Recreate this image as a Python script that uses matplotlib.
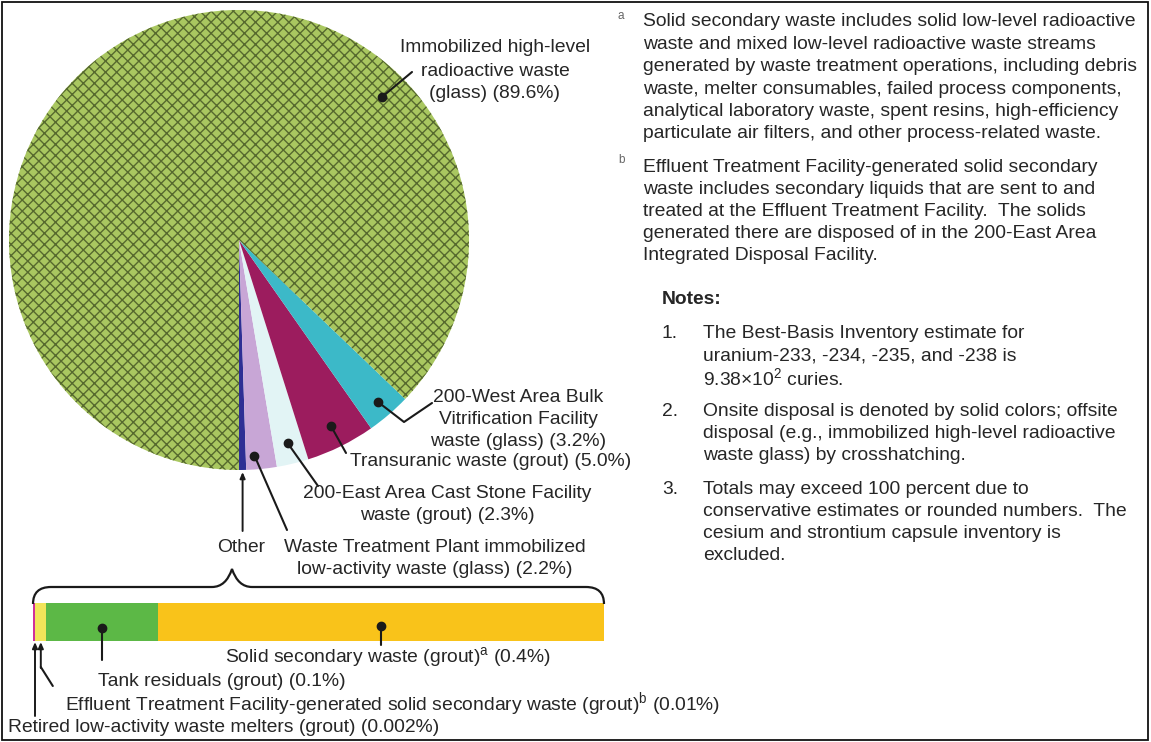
import numpy as np
import matplotlib
matplotlib.use("Agg")
import matplotlib.pyplot as plt
from matplotlib.path import Path
from matplotlib.patches import PathPatch, Rectangle

plt.rcParams['font.family'] = ['Liberation Sans', 'DejaVu Sans']
plt.rcParams['mathtext.fontset'] = 'custom'
plt.rcParams['mathtext.rm'] = 'Liberation Sans'
plt.rcParams['mathtext.it'] = 'Liberation Sans:italic'
plt.rcParams['hatch.linewidth'] = 1.0

# ---- data ----
bar_labels = ["Retired low-activity waste melters (grout) (0.002%)",
              "Effluent Treatment Facility-generated solid secondary waste (grout)$^{\\mathrm{b}}$ (0.01%)",
              "Tank residuals (grout) (0.1%)",
              "Solid secondary waste (grout)$^{\\mathrm{a}}$ (0.4%)"]
bar_values = [0.002, 0.01, 0.1, 0.4]
bar_colors = ["#d0309a", "#f2e55a", "#5cb846", "#f9c31a"]

pie_names = ["Other", "Waste Treatment Plant", "200-East Cast Stone",
             "Transuranic", "200-West BVF", "Immobilized HLW"]
pie_values = [sum(bar_values), 2.2, 2.3, 5.0, 3.2, 89.6]
pie_colors = ["#2e2f94", "#c8a6d6", "#e2f4f5", "#9c1c5e", "#3cb9c8", "#a9c760"]

FIG_W, FIG_H = 1151, 742
fig = plt.figure(figsize=(FIG_W / 100, FIG_H / 100), dpi=100)


def box(x0, y0, x1, y1):
    # pixel box (top-left origin) -> figure fraction
    return [x0 / FIG_W, 1 - y1 / FIG_H, (x1 - x0) / FIG_W, (y1 - y0) / FIG_H]


# pie
cx, cy, R = 239, 240, 230
ax_pie = fig.add_axes(box(cx - R, cy - R, cx + R, cy + R))
wedges, _ = ax_pie.pie(pie_values, colors=pie_colors, startangle=270,
                       counterclock=True, radius=1,
                       wedgeprops=dict(linewidth=0))
wedges[-1].set_edgecolor("#56692e")
wedges[-1].set_hatch("xxx")
ax_pie.set_xlim(-1, 1)
ax_pie.set_ylim(-1, 1)
ax_pie.axis("off")

# bar
ax_bar = fig.add_axes(box(33, 603, 604, 641))
left = 0
for v, c in zip(bar_values, bar_colors):
    ax_bar.barh(0, v, left=left, color=c, height=1, linewidth=0)
    left += v
ax_bar.set_xlim(0, sum(bar_values))
ax_bar.set_ylim(-0.5, 0.5)
ax_bar.axis("off")

# overlay in pixel coordinates
ax = fig.add_axes([0, 0, 1, 1], zorder=5)
ax.set_xlim(0, FIG_W)
ax.set_ylim(FIG_H, 0)
ax.axis("off")
ax.patch.set_alpha(0)

to_px = ax.transData.inverted()


def pie_point(i, r, frac=0.5):
    w = wedges[i]
    ang = np.radians(w.theta1 + frac * (w.theta2 - w.theta1))
    p = ax_pie.transData.transform((r * np.cos(ang), r * np.sin(ang)))
    return to_px.transform(p)


def bar_point(i, ypx):
    start = sum(bar_values[:i])
    p = ax_bar.transData.transform((start + bar_values[i] / 2, 0))
    return to_px.transform(p)[0], ypx


lc = "#1a1a1a"
tc = "#262626"
fs = 13.9


def leader(pts, dot=True):
    xs = [p[0] for p in pts]
    ys = [p[1] for p in pts]
    ax.plot(xs, ys, color=lc, lw=1.5, solid_capstyle='round')
    if dot:
        ax.plot(xs[0], ys[0], 'o', color=lc, ms=6)


def arrow_up(x, y0, y1):
    ax.annotate("", xy=(x, y0), xytext=(x, y1),
                arrowprops=dict(arrowstyle="-|>,head_length=0.35,head_width=0.15",
                                color=lc, lw=1.4, shrinkA=0, shrinkB=0))


def label(x, ys, lines, ha="center"):
    for yy, s in zip(ys, lines):
        ax.text(x, yy, s, ha=ha, va="center", fontsize=fs, color=tc)


# Immobilized HLW label (dot at fixed angle in big wedge)
ang = np.radians(45)
p = to_px.transform(ax_pie.transData.transform((0.88 * np.cos(ang), 0.88 * np.sin(ang))))
leader([p, (412, 72)])
label(495, [47, 71, 94], ["Immobilized high-level", "radioactive waste", "(glass) (89.6%)"])

# BVF
p = pie_point(4, 0.93)
leader([p, (404, 422), (432, 403)])
label(518, [397, 419, 441], ["200-West Area Bulk", "Vitrification Facility", "waste (glass) (3.2%)"])

# Transuranic
p = pie_point(3, 0.9)
leader([p, (346, 453)])
label(350, [461], ["Transuranic waste (grout) (5.0%)"], ha="left")

# Cast stone
p = pie_point(2, 0.91)
leader([p, (318, 486)])
label(447, [493, 516], ["200-East Area Cast Stone Facility", "waste (grout) (2.3%)"])

# WTP LAW
p = pie_point(1, 0.94, 0.3)
leader([p, (287, 530)])
label(435, [547, 570], ["Waste Treatment Plant immobilized", "low-activity waste (glass) (2.2%)"])

# Other
ox = pie_point(0, 1.0)[0]
arrow_up(ox, 472, 531)
label(ox - 1, [547], ["Other"])

# curly brace over the bar
bx0, bx1, tipx, by0, byh, tipy = 33, 604, 232, 604, 587, 569
brace = Path([(bx0, by0), (bx0, byh), (bx0 + 18, byh),
              (tipx - 20, byh),
              (tipx - 6, byh), (tipx, tipy),
              (tipx + 6, byh), (tipx + 20, byh),
              (bx1 - 18, byh),
              (bx1, byh), (bx1, by0)],
             [Path.MOVETO, Path.CURVE3, Path.CURVE3,
              Path.LINETO,
              Path.CURVE3, Path.CURVE3,
              Path.CURVE3, Path.CURVE3,
              Path.LINETO,
              Path.CURVE3, Path.CURVE3])
ax.add_patch(PathPatch(brace, fill=False, lw=1.6, color=lc))

# bar labels
x, y = bar_point(2, 628)
leader([(x, y), (x, 660)])
label(98, [681], [bar_labels[2]], ha="left")

x, y = bar_point(3, 626)
leader([(x, y), (x, 645)])
label(225, [657], [bar_labels[3]], ha="left")

x = bar_point(1, 0)[0]
arrow_up(x, 642, 668)
leader([(x, 667), (x + 12, 686)], dot=False)
label(65, [704], [bar_labels[1]], ha="left")

arrow_up(35, 642, 716)
label(8, [727], [bar_labels[0]], ha="left")

# footnotes
note_a = ["Solid secondary waste includes solid low-level radioactive",
          "waste and mixed low-level radioactive waste streams",
          "generated by waste treatment operations, including debris",
          "waste, melter consumables, failed process components,",
          "analytical laboratory waste, spent resins, high-efficiency",
          "particulate air filters, and other process-related waste."]
note_b = ["Effluent Treatment Facility-generated solid secondary",
          "waste includes secondary liquids that are sent to and",
          "treated at the Effluent Treatment Facility.  The solids",
          "generated there are disposed of in the 200-East Area",
          "Integrated Disposal Facility."]
ax.text(618, 16, "a", fontsize=8.5, color="#666666", ha="left", va="center")
label(643, [22 + i * 22.4 for i in range(len(note_a))], note_a, ha="left")
ax.text(618, 160, "b", fontsize=8.5, color="#666666", ha="left", va="center")
label(643, [168 + i * 22 for i in range(len(note_b))], note_b, ha="left")

ax.text(662, 300, "Notes:", ha="left", va="center", fontsize=fs, color=tc, fontweight="bold")
notes = [["The Best-Basis Inventory estimate for",
          "uranium-233, -234, -235, and -238 is",
          "9.38\u00d710$^{2}$ curies."],
         ["Onsite disposal is denoted by solid colors; offsite",
          "disposal (e.g., immobilized high-level radioactive",
          "waste glass) by crosshatching."],
         ["Totals may exceed 100 percent due to",
          "conservative estimates or rounded numbers.  The",
          "cesium and strontium capsule inventory is",
          "excluded."]]
note_y = [334, 412, 490]
for n, (lines, y0) in enumerate(zip(notes, note_y)):
    label(662, [y0], [f"{n + 1}."], ha="left")
    label(703, [y0 + i * 22 for i in range(len(lines))], lines, ha="left")

# outer border
ax.add_patch(Rectangle((2, 2), FIG_W - 5, FIG_H - 4, fill=False, lw=1.3, color="#111111"))

fig.savefig("out.png", dpi=100)
